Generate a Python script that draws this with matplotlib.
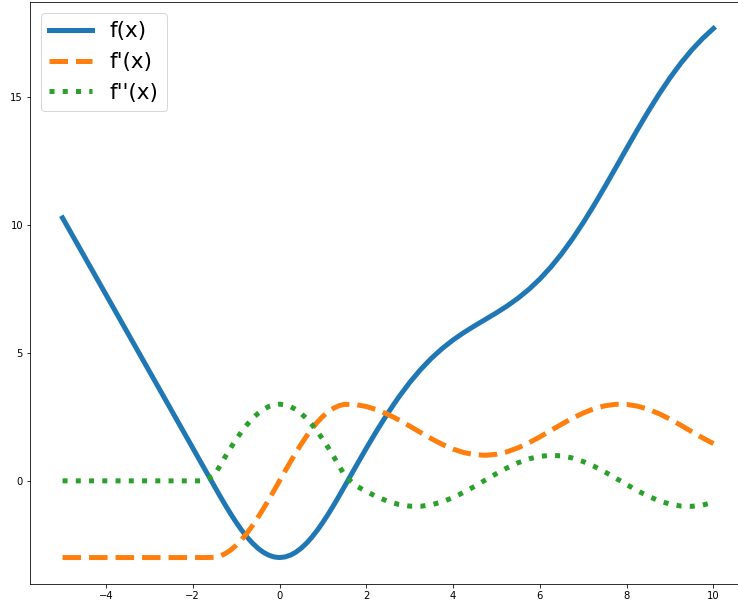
import matplotlib
matplotlib.use('Agg')
import matplotlib.pyplot as plt

# ── Data (x step 0.25, finer around the dip) ────
x = [-5.0, -4.75, -4.5, -4.25, -4.0, -3.75, -3.5, -3.25, -3.0, -2.75,
     -2.5, -2.25, -2.0, -1.75,
     -1.5, -1.375, -1.25, -1.125, -1.0, -0.875, -0.75, -0.625, -0.5, -0.375,
     -0.25, -0.125, 0.0, 0.125, 0.25, 0.375, 0.5, 0.625, 0.75, 0.875,
     1.0, 1.125, 1.25, 1.375, 1.5,
     1.75, 2.0, 2.25, 2.5, 2.75, 3.0, 3.25, 3.5, 3.75, 4.0,
     4.25, 4.5, 4.75, 5.0, 5.25, 5.5, 5.75, 6.0, 6.25, 6.5,
     6.75, 7.0, 7.25, 7.5, 7.75, 8.0, 8.25, 8.5, 8.75, 9.0,
     9.25, 9.5, 9.75, 10.0]

f = [10.288, 9.538, 8.788, 8.038, 7.288, 6.538, 5.788, 5.038, 4.288, 3.538,
     2.788, 2.038, 1.288, 0.538,
     -0.212, -0.584, -0.946, -1.294, -1.621, -1.923, -2.195, -2.433, -2.633, -2.792,
     -2.907, -2.977, -3.0, -2.977, -2.907, -2.792, -2.633, -2.433, -2.195, -1.923,
     -1.621, -1.294, -0.946, -0.584, -0.212,
     0.537, 1.275, 1.987, 2.660, 3.283, 3.848, 4.353, 4.795, 5.179, 5.512,
     5.805, 6.069, 6.321, 6.575, 6.846, 7.150, 7.497, 7.898, 8.359, 8.882,
     9.465, 10.105, 10.790, 11.512, 12.255, 13.004, 13.744, 14.460, 15.139, 15.770,
     16.343, 16.856, 17.306, 17.698]

df1 = [-3.0, -3.0, -3.0, -3.0, -3.0, -3.0, -3.0, -3.0, -3.0, -3.0,
       -3.0, -3.0, -3.0, -3.0,
       -2.993, -2.943, -2.847, -2.707, -2.524, -2.303, -2.045, -1.755, -1.438, -1.099,
       -0.742, -0.374, 0.0, 0.374, 0.742, 1.099, 1.438, 1.755, 2.045, 2.303,
       2.524, 2.707, 2.847, 2.943, 2.993,
       2.984, 2.909, 2.778, 2.599, 2.382, 2.141, 1.892, 1.649, 1.428, 1.243,
       1.105, 1.023, 1.001, 1.041, 1.141, 1.295, 1.492, 1.721, 1.967, 2.215,
       2.450, 2.657, 2.823, 2.938, 2.995, 2.989, 2.923, 2.799, 2.625, 2.412,
       2.174, 1.925, 1.681, 1.456]

df2 = [0.0, 0.0, 0.0, 0.0, 0.0, 0.0, 0.0, 0.0, 0.0, 0.0,
       0.0, 0.0, 0.0, 0.0,
       0.212, 0.584, 0.946, 1.294, 1.621, 1.923, 2.195, 2.433, 2.633, 2.792,
       2.907, 2.977, 3.0, 2.977, 2.907, 2.792, 2.633, 2.433, 2.195, 1.923,
       1.621, 1.294, 0.946, 0.584, 0.212,
       -0.178, -0.416, -0.628, -0.801, -0.924, -0.990, -0.994, -0.937, -0.821, -0.654,
       -0.446, -0.211, 0.038, 0.284, 0.512, 0.709, 0.861, 0.960, 0.999, 0.977,
       0.893, 0.754, 0.568, 0.347, 0.104, -0.146, -0.386, -0.602, -0.781, -0.911,
       -0.985, -0.997, -0.948, -0.839]

fig = plt.figure(figsize=(738 / 72, 606 / 72), dpi=72)
ax = fig.add_axes([30 / 738, 22 / 606, 716 / 738, 582 / 606])

ax.plot(x, f, linewidth=5, label='f(x)')
ax.plot(x, df1, linewidth=5, linestyle='--', label="f'(x)")
ax.plot(x, df2, linewidth=5, linestyle=':', label="f''(x)")

ax.set_yticks([0, 5, 10, 15])
ax.legend(loc='upper left', fontsize=21.5)

fig.savefig('out.png', dpi=72)
